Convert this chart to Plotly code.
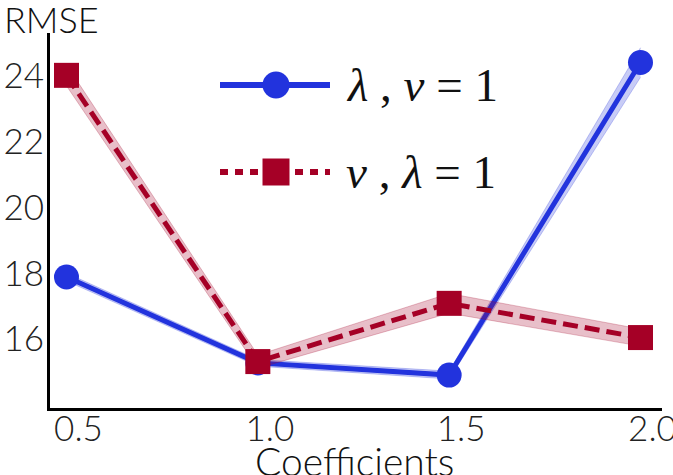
import plotly.graph_objects as go

# ---- data ----
coefficients = [0.5, 1.0, 1.5, 2.0]
rmse_lambda = [17.89, 15.28, 14.91, 24.41]   # lambda varied, nu = 1
std_lambda = [0.12, 0.10, 0.12, 0.45]
rmse_nu = [24.02, 15.32, 17.09, 16.05]       # nu varied, lambda = 1
std_nu = [0.32, 0.20, 0.30, 0.26]
x_ticks = [0.5, 1.0, 1.5, 2.0]
x_tick_labels = ["0.5", "1.0", "1.5", "2.0"]
y_ticks = [16, 18, 20, 22, 24]
y_tick_labels = ["16", "18", "20", "22", "24"]
legend_labels = ["<i>λ</i> , <i>ν</i> = 1", "<i>ν</i> , <i>λ</i> = 1"]

BLUE = "#2233dd"
RED = "#a50026"
W, H = 673, 475
ML, MR, MT, MB = 50, 11, 33, 67
PW, PH = W - ML - MR, H - MT - MB

def px(x):  # pixel -> paper x
    return (x - ML) / PW

def py(y):  # pixel -> paper y
    return (H - MB - y) / PH

fig = go.Figure()

def add_series(y, s, color, band_rgba, dash, symbol):
    upper = [a + b for a, b in zip(y, s)]
    lower = [a - b for a, b in zip(y, s)]
    fig.add_trace(go.Scatter(x=coefficients, y=upper, mode="lines",
                             line=dict(width=1, color=band_rgba), showlegend=False,
                             hoverinfo="skip"))
    fig.add_trace(go.Scatter(x=coefficients, y=lower, mode="lines", fill="tonexty",
                             fillcolor=band_rgba, line=dict(width=1, color=band_rgba),
                             showlegend=False, hoverinfo="skip"))
    fig.add_trace(go.Scatter(x=coefficients, y=y, mode="lines+markers",
                             line=dict(color=color, width=5, dash=dash),
                             marker=dict(symbol=symbol, size=25, color=color,
                                         line=dict(width=0)),
                             showlegend=False))

add_series(rmse_lambda, std_lambda, BLUE, "rgba(34,51,221,0.25)", "solid", "circle")
add_series(rmse_nu, std_nu, RED, "rgba(165,0,38,0.25)", "15px,7px", "square")

tick_font = dict(family="Lato, sans-serif", size=35, color="#222222", weight=300)

fig.update_layout(
    width=W, height=H,
    margin=dict(l=ML, r=MR, t=MT, b=MB, pad=0, autoexpand=False),
    plot_bgcolor="white", paper_bgcolor="white",
    showlegend=False,
    xaxis=dict(range=[0.4569, 2.0562], tickvals=x_ticks, ticktext=x_tick_labels,
               showgrid=False, zeroline=False, showline=True, linecolor="black",
               linewidth=3, ticks="", tickfont=tick_font, ticklabelshift=12,
               ticklabelstandoff=-12, ticklabeloverflow="allow", automargin=False),
    yaxis=dict(range=[13.909, 25.307], tickvals=y_ticks, ticktext=y_tick_labels,
               showgrid=False, zeroline=False, showline=True, linecolor="black",
               linewidth=3, ticks="", tickfont=tick_font, ticklabelstandoff=-4,
               ticklabeloverflow="allow", automargin=False),
)

# axis titles
fig.add_annotation(text="RMSE", xref="paper", yref="paper", x=px(2), y=py(19),
                   xanchor="left", yanchor="middle", showarrow=False,
                   font=dict(family="Lato, sans-serif", size=36, color="#111111", weight=300))
fig.add_annotation(text="Coefficients", xref="paper", yref="paper", x=px(354), y=py(461),
                   xanchor="center", yanchor="middle", showarrow=False,
                   font=dict(family="Lato, sans-serif", size=39, color="#111111", weight=300))

# manual legend
rows = [(85, BLUE, "solid", "circle"), (172, RED, "dot", "square")]
for (yy, color, dash, kind), label in zip(rows, legend_labels):
    fig.add_shape(type="line", xref="paper", yref="paper", x0=px(220), x1=px(330),
                  y0=py(yy), y1=py(yy),
                  line=dict(color=color, width=6, dash=("solid" if dash == "solid" else "8px,7px")))
    r = 13.5
    fig.add_shape(type=kind if kind == "circle" else "rect", xref="paper", yref="paper",
                  xsizemode="pixel", ysizemode="pixel", xanchor=px(276), yanchor=py(yy),
                  x0=-r, x1=r, y0=-r, y1=r, fillcolor=color, line=dict(width=0))
    fig.add_annotation(text=label, xref="paper", yref="paper", x=px(344), y=py(yy),
                       xanchor="left", yanchor="middle", showarrow=False,
                       font=dict(family="Liberation Serif, serif", size=47, color="#111111"))

fig.write_html("out.html")
